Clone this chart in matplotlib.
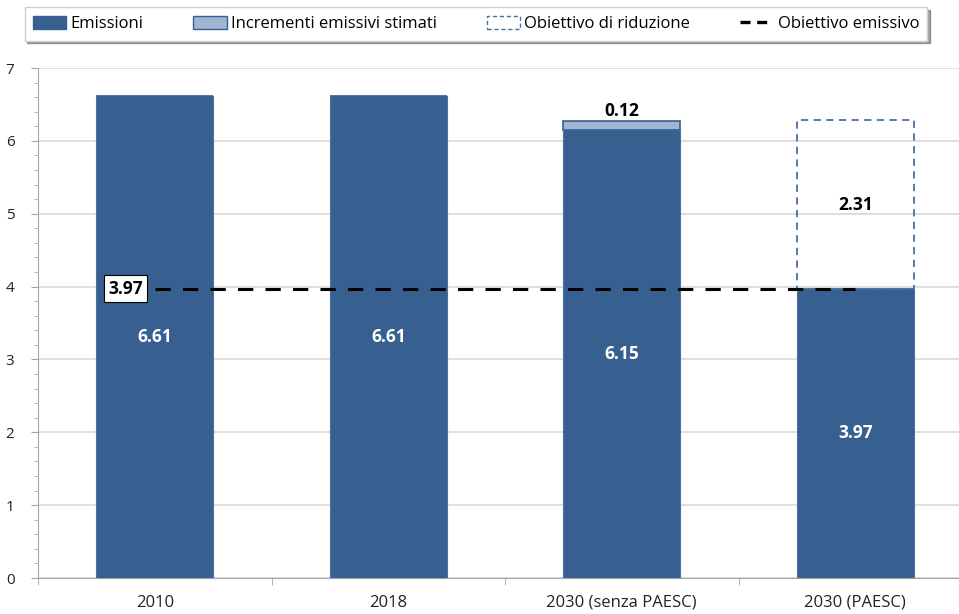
import matplotlib.pyplot as plt
from matplotlib.patches import Patch
from matplotlib.lines import Line2D
import numpy as np

plt.rcParams['font.family'] = ['Open Sans', 'DejaVu Sans']

categories = ["2010", "2018", "2030 (senza PAESC)", "2030 (PAESC)"]
emissioni = [6.61, 6.61, 6.15, 3.97]
incrementi = [0.0, 0.0, 0.12, 0.0]
riduzione = [0.0, 0.0, 0.0, 2.31]
obiettivo = 3.97

dark = "#375f8f"
light = "#9fb6d3"
x = np.arange(len(categories))

fig = plt.figure(figsize=(9.59, 6.14), dpi=100)
ax = fig.add_axes([38 / 959, 36 / 614, 934 / 959, 510 / 614])

ax.bar(x, emissioni, width=0.5, color=dark, edgecolor="#4a72a3", linewidth=0.8, zorder=3)
ax.bar(x, incrementi, width=0.5, bottom=emissioni, color=light, edgecolor=dark,
       linewidth=1.2, zorder=3)
for xi, base, r in zip(x, emissioni, riduzione):
    if r > 0:
        ax.bar(xi, r, width=0.5, bottom=base, fill=False, edgecolor="#4a6f9a",
               linestyle=(0, (4, 3)), linewidth=1.3, zorder=3)

# target line from first to last category
ax.plot([x[0], x[-1]], [obiettivo, obiettivo], color="black", lw=2.2,
        dashes=(5, 4), zorder=4)
ax.text(x[0] - 0.05, obiettivo, f"{obiettivo:.2f}", ha="right", va="center",
        fontsize=12.5, fontweight="bold", zorder=5,
        bbox=dict(boxstyle="square,pad=0.25", fc="white", ec="black", lw=0.8))

for xi, e in zip(x, emissioni):
    ax.text(xi, e / 2, f"{e:.2f}", ha="center", va="center", color="white",
            fontsize=12.5, fontweight="bold", zorder=5)
for xi, e, inc in zip(x, emissioni, incrementi):
    if inc > 0:
        ax.text(xi, e + inc + 0.02, f"{inc:.2f}", ha="center", va="bottom",
                fontsize=12.5, fontweight="bold", zorder=5)
for xi, e, r in zip(x, emissioni, riduzione):
    if r > 0:
        ax.text(xi, e + r / 2, f"{r:.2f}", ha="center", va="center",
                fontsize=12.5, fontweight="bold", zorder=5)

ax.set_xlim(-0.5, 3.5)
ax.set_ylim(0, 7)
ax.set_yticks(range(8))
ax.set_yticks(np.arange(0, 7.01, 0.2), minor=True)
ax.set_xticks(x)
ax.set_xticklabels(categories, fontsize=12, color="#222222")
ax.set_xticks(np.arange(-0.5, 3.6, 1), minor=True)
ax.tick_params(axis="x", which="major", length=0, pad=12)
ax.tick_params(axis="x", which="minor", length=5, color="#a6a6a6")
ax.tick_params(axis="y", which="major", length=5, color="#a6a6a6",
               labelsize=11, pad=12, labelcolor="#222222")
ax.tick_params(axis="y", which="minor", length=3, color="#a6a6a6")
ax.grid(axis="y", color="#d9d9d9", lw=1.2, zorder=0)
for s in ["top", "right"]:
    ax.spines[s].set_visible(False)
for s in ["left", "bottom"]:
    ax.spines[s].set_color("#a6a6a6")

handles = [
    Patch(facecolor=dark, edgecolor=dark, label="Emissioni"),
    Patch(facecolor=light, edgecolor=dark, label="Incrementi emissivi stimati"),
    Patch(facecolor="none", edgecolor="#4a6f9a", linestyle=(0, (3, 2)),
          label="Obiettivo di riduzione"),
    Line2D([0], [0], color="black", lw=2.4, dashes=(3, 2), label="Obiettivo emissivo"),
]
leg = fig.legend(handles=handles, loc="center", bbox_to_anchor=(476 / 959, 1 - 24 / 614),
                 ncol=4, fontsize=12, frameon=True, shadow=True, fancybox=False,
                 handlelength=2.0, handleheight=0.9, handletextpad=0.25,
                 columnspacing=3.0, borderpad=0.5, borderaxespad=0)
leg.get_frame().set_edgecolor("#d0d0d0")

fig.savefig("out.png", dpi=100)
